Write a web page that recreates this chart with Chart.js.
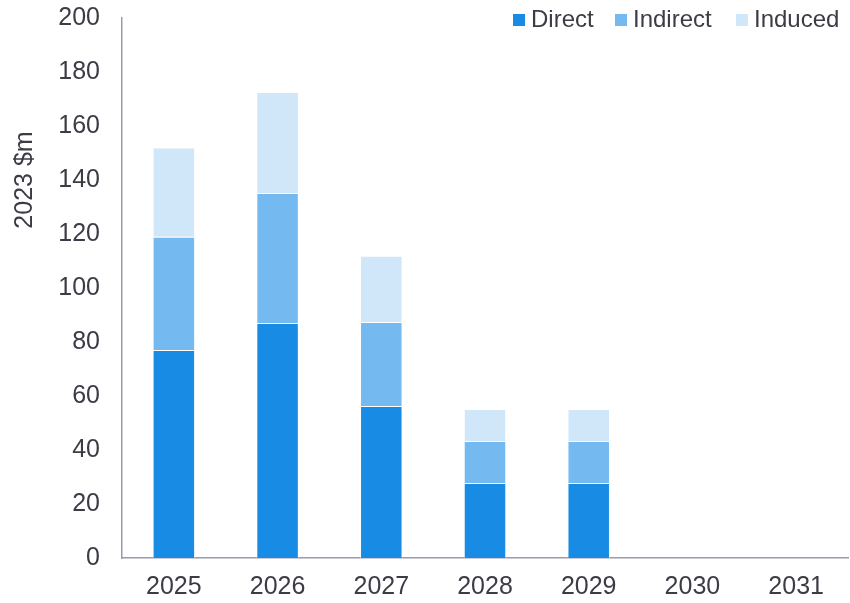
<!DOCTYPE html>
<html>
<head>
<meta charset="utf-8">
<script src="https://cdn.jsdelivr.net/npm/chart.js@4"></script>
<style>
  html, body { margin: 0; padding: 0; background: #fff; }
  #wrap { width: 850px; height: 603px; }
</style>
</head>
<body>
<div id="wrap"><canvas id="impactChart"></canvas></div>
<script>
const years = ["2025", "2026", "2027", "2028", "2029", "2030", "2031"];
const direct = [77, 87, 56.3, 27.8, 27.8, 0, 0];
const indirect = [42, 48.2, 31.1, 15.5, 15.5, 0, 0];
const induced = [33, 37.4, 24.5, 11.9, 11.9, 0, 0];
const yTicks = [0, 20, 40, 60, 80, 100, 120, 140, 160, 180, 200];

const fontFam = "'Liberation Sans', Arial, sans-serif";
const textCol = "#3c3c46";
const colors = ["#188ce5", "#74baf0", "#d0e6f9"];

// legend + y title drawn by hand so they sit where the original has them
const extras = {
  id: "extras",
  afterDraw(chart) {
    const c = chart.ctx;
    c.save();
    c.font = "24px " + fontFam;
    c.fillStyle = textCol;
    c.textBaseline = "middle";
    const items = [["Direct", 513], ["Indirect", 615], ["Induced", 736]];
    items.forEach((it, i) => {
      c.fillStyle = colors[i];
      c.fillRect(it[1], 14, 12, 12);
      c.fillStyle = textCol;
      c.fillText(it[0], it[1] + 18, 20);
    });
    c.translate(25, 180);
    c.rotate(-Math.PI / 2);
    c.textAlign = "center";
    c.font = "25px " + fontFam;
    c.fillText("2023 $m", 0, 0);
    c.restore();
  }
};

const ctx = document.getElementById("impactChart").getContext("2d");
const myChart = new Chart(ctx, {
  type: "bar",
  data: {
    labels: years,
    datasets: [
      { label: "Direct", data: direct, backgroundColor: colors[0] },
      { label: "Indirect", data: indirect, backgroundColor: colors[1] },
      { label: "Induced", data: induced, backgroundColor: colors[2] }
    ]
  },
  options: {
    responsive: true,
    maintainAspectRatio: false,
    animation: false,
    layout: { padding: { top: 18, right: 2, left: 0, bottom: 0 } },
    datasets: {
      bar: {
        barPercentage: 0.41,
        categoryPercentage: 1,
        borderWidth: 1,
        borderColor: "rgba(255,255,255,0.5)"
      }
    },
    plugins: {
      legend: { display: false },
      tooltip: { enabled: false }
    },
    scales: {
      x: {
        stacked: true,
        grid: { display: false },
        border: { display: true, color: "#9a9aaa", width: 1.5 },
        ticks: { color: textCol, font: { family: fontFam, size: 25 }, padding: 6 },
        afterFit(s) { s.height = 45; }
      },
      y: {
        stacked: true,
        min: 0,
        max: 200,
        grid: { display: false },
        border: { display: true, color: "#9a9aaa", width: 1.5 },
        afterBuildTicks(s) { s.ticks = yTicks.map(v => ({ value: v })); },
        ticks: { color: textCol, font: { family: fontFam, size: 25 }, padding: 14 },
        afterFit(s) { s.width = 122; s.paddingTop = 0; s.paddingBottom = 0; }
      }
    }
  },
  plugins: [extras]
});
</script>
</body>
</html>
